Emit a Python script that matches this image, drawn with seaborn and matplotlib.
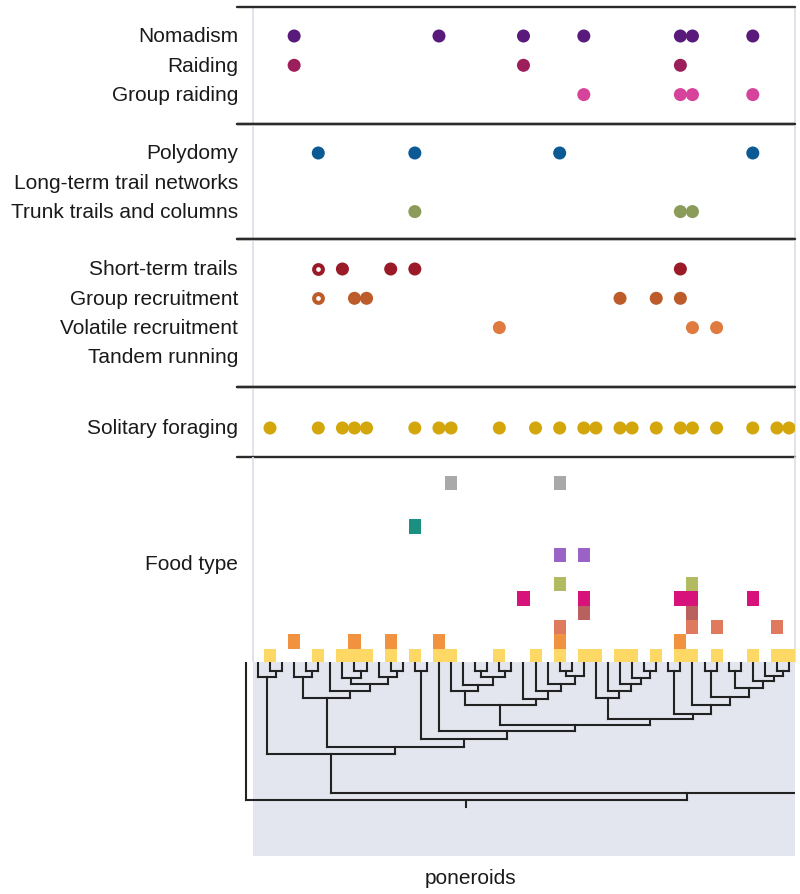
import matplotlib
matplotlib.use("Agg")
import matplotlib.pyplot as plt
import seaborn as sns
import pandas as pd

# ---------------- data ----------------
section1 = ["Nomadism", "Raiding", "Group raiding"]
section2 = ["Polydomy", "Long-term trail networks", "Trunk trails and columns"]
section3 = ["Short-term trails", "Group recruitment", "Volatile recruitment", "Tandem running"]
section4 = ["Solitary foraging"]

# column (species) indices carrying each trait
nomadism = [2, 14, 21, 26, 34, 35, 40]
raiding = [2, 21, 34]
group_raiding = [26, 34, 35, 40]
polydomy = [4, 12, 24, 40]
long_term_trails = []
trunk_trails = [12, 34, 35]
short_term_trails = [6, 10, 12, 34]
short_term_trails_uncertain = [4]
group_recruitment = [7, 8, 29, 32, 34]
group_recruitment_uncertain = [4]
volatile_recruitment = [19, 35, 37]
tandem_running = []
solitary_foraging = [0, 4, 6, 7, 8, 12, 14, 15, 19, 22, 24, 26, 27, 29, 30, 32,
                     34, 35, 37, 40, 42, 43]

# food type matrix: category level and columns
food_levels = [0, 1, 2, 3, 4, 5, 7, 9, 12]
food_cols = [
    [0, 4, 6, 7, 8, 10, 12, 14, 15, 19, 22, 24, 26, 27, 29, 30, 32, 34, 35, 37, 40, 42, 43],
    [2, 7, 10, 14, 24, 34],
    [24, 35, 37, 42],
    [26, 35],
    [21, 26, 34, 35, 40],
    [24, 35],
    [24, 26],
    [12],
    [15, 24],
]

# phylogeny: (left, right, node depth); ints are tips
c_clade = (-1, (0, 1, 672), 678)
g_clade = (2, (3, 4, 672), 678)
h_clade = (5, ((6, (7, 8, 672), 679), (9, (10, 11, 672), 678), 685), 692)
e_clade = (g_clade, h_clade, 699)
j_clade = (12, 13, 672)
p_clade = (15, (16, ((17, 18, 672), (19, 20, 672), 678), 686), 692)
q_clade = (21, (22, (23, ((24, 25, 672), 26, 677), 685), 692), 700)
n_clade = (p_clade, q_clade, 706)
s_clade = (27, (28, (29, (30, (31, 32, 672), 679), 685), 692), 699)
d_sub = ((38, 39, 672), (40, (41, (42, 43, 672), 677), 682), 689)
t_clade = ((33, 34, 672), (35, ((36, 37, 672), d_sub, 698), 706), 715)
o_clade = (s_clade, t_clade, 719.5)
m_clade = (n_clade, o_clade, 726)
k_clade = (14, m_clade, 732)
f_clade = (j_clade, k_clade, 740)
d_clade = (e_clade, f_clade, 748)
b_clade = (c_clade, d_clade, 755)
a_clade = (b_clade, 64, 794)
tree = (-2, a_clade, 801)

# ---------------- styles ----------------
trait_colors = {
    "Nomadism": "#5a1a7c", "Raiding": "#9c1f5c", "Group raiding": "#d6439a",
    "Polydomy": "#0b5a94", "Long-term trail networks": "#2e7d6b",
    "Trunk trails and columns": "#8b9c5a",
    "Short-term trails": "#9a1b27", "Group recruitment": "#bd5b2b",
    "Volatile recruitment": "#e07b3f", "Tandem running": "#e8a040",
    "Solitary foraging": "#d3a70b",
}
food_colors = ["#fdd865", "#f0923f", "#e07a5f", "#b8615f", "#d7127b",
               "#b2bb62", "#9b63c6", "#1b9080", "#a9a9a9"]

sns.set_theme(style="white")
plt.rcParams["font.family"] = ["Liberation Sans", "DejaVu Sans"]

W, H = 800, 895
fig = plt.figure(figsize=(W / 100, H / 100), dpi=100)

COL0_PX, COL_PX = 270.0, 12.07
LEFT_PX, RIGHT_PX = 237.0, 795.0
PANEL_LEFT_PX = 253.0
LABEL_RIGHT_PX = 238.0
FS = 15
TXT = "#1a1a1a"
SEP = "#2b2b2b"
LIGHT = "#dde0e8"


def px2col(px):
    return (px - COL0_PX) / COL_PX


XLIM = (px2col(LEFT_PX), px2col(RIGHT_PX))
PANEL_L = px2col(PANEL_LEFT_PX)


def make_axes(top, bottom):
    ax = fig.add_axes([LEFT_PX / W, 1 - bottom / H,
                       (RIGHT_PX - LEFT_PX) / W, (bottom - top) / H])
    ax.set_xlim(*XLIM)
    ax.set_xticks([])
    ax.set_yticks([])
    for s in ax.spines.values():
        s.set_visible(False)
    ax.patch.set_alpha(0)
    return ax


# ---------------- trait sections ----------------
SECTION_EDGES = [8, 125, 240, 388, 458]
FIRST_ROW_OFFSET = [29, 29, 30, 41]
ROW_STEP = 29.3

sections = [
    (section1, [nomadism, raiding, group_raiding], [[], [], []]),
    (section2, [polydomy, long_term_trails, trunk_trails], [[], [], []]),
    (section3, [short_term_trails, group_recruitment, volatile_recruitment, tandem_running],
     [short_term_trails_uncertain, group_recruitment_uncertain, [], []]),
    (section4, [solitary_foraging], [[]]),
]

for si, (labels, filled, hollow) in enumerate(sections):
    top, bottom = SECTION_EDGES[si], SECTION_EDGES[si + 1]
    ax = make_axes(top, bottom)
    ax.set_ylim(bottom, top)
    recs, recs_open = [], []
    for k, (lab, cols, ocols) in enumerate(zip(labels, filled, hollow)):
        y = top + FIRST_ROW_OFFSET[si] + k * ROW_STEP
        ax.text(px2col(LABEL_RIGHT_PX), y, lab, ha="right", va="center",
                fontsize=FS, color=TXT, clip_on=False)
        recs += [{"trait": lab, "col": c, "y": y} for c in cols]
        recs_open += [{"trait": lab, "col": c, "y": y} for c in ocols]
    df = pd.DataFrame(recs)
    if len(df):
        sns.scatterplot(data=df, x="col", y="y", hue="trait", palette=trait_colors,
                        s=88, linewidth=0, legend=False, ax=ax, zorder=3)
    dfo = pd.DataFrame(recs_open)
    if len(dfo):
        for lab, sub in dfo.groupby("trait"):
            sns.scatterplot(data=sub, x="col", y="y", s=40, facecolor="white",
                            edgecolor=trait_colors[lab], linewidth=2.9,
                            legend=False, ax=ax, zorder=3)
    ax.set_xlabel("")
    ax.set_ylabel("")
    ax.set_xlim(*XLIM)
    ax.set_ylim(bottom, top)
    ax.axhline(top, color=SEP, lw=1.7, clip_on=False, zorder=5)
    ax.axhline(bottom, color=SEP, lw=1.7, clip_on=False, zorder=5)
    ax.axvline(PANEL_L, color=LIGHT, lw=1.3, zorder=1)
    ax.axvline(XLIM[1], color=LIGHT, lw=1.3, zorder=1, clip_on=False)

# ---------------- food type ----------------
FOOD_TOP, FOOD_BOTTOM = 458, 663
ROW_PX = 14.4
YEL_CENTER_PX = 657
axf = make_axes(FOOD_TOP, FOOD_BOTTOM)
axf.set_ylim((YEL_CENTER_PX - FOOD_BOTTOM) / ROW_PX, (YEL_CENTER_PX - FOOD_TOP) / ROW_PX)
for lvl, cols, colr in zip(food_levels, food_cols, food_colors):
    axf.bar(cols, [1.0] * len(cols), bottom=lvl - 0.5, width=1.0, color=colr,
            linewidth=0, zorder=2)
axf.text(px2col(LABEL_RIGHT_PX), (YEL_CENTER_PX - 565) / ROW_PX, "Food type",
         ha="right", va="center", fontsize=FS, color=TXT, clip_on=False)
axf.axvline(PANEL_L, color=LIGHT, lw=1.3, zorder=1)
axf.axvline(XLIM[1], color=LIGHT, lw=1.3, zorder=1, clip_on=False)

# ---------------- phylogeny ----------------
TREE_TOP, TREE_BOTTOM = 663, 857
axt = make_axes(TREE_TOP, TREE_BOTTOM)
axt.set_ylim(TREE_BOTTOM, TREE_TOP)
axt.axvspan(PANEL_L, XLIM[1], color="#e3e6ee", zorder=0, lw=0)
LINE = dict(color="#222222", lw=1.5, solid_capstyle="projecting", zorder=3)


def draw_tree(ax, node, tip):
    if not isinstance(node, tuple):
        return float(node), tip
    left, right, h = node
    lx, ly = draw_tree(ax, left, tip)
    rx, ry = draw_tree(ax, right, tip)
    ax.plot([lx, lx], [ly, h], **LINE)
    ax.plot([rx, rx], [ry, h], **LINE)
    ax.plot([lx, rx], [h, h], **LINE)
    return (lx + rx) / 2, h


root_x, root_h = draw_tree(axt, tree, TREE_TOP + 1)
axt.plot([root_x, root_x], [root_h, root_h + 7], **LINE)
axt.set_xlim(*XLIM)
axt.set_ylim(TREE_BOTTOM, TREE_TOP)

fig.text(471 / W, 1 - 879 / H, "poneroids", ha="center", va="center",
         fontsize=FS, color=TXT)

fig.savefig("out.png", dpi=100, facecolor="white")
